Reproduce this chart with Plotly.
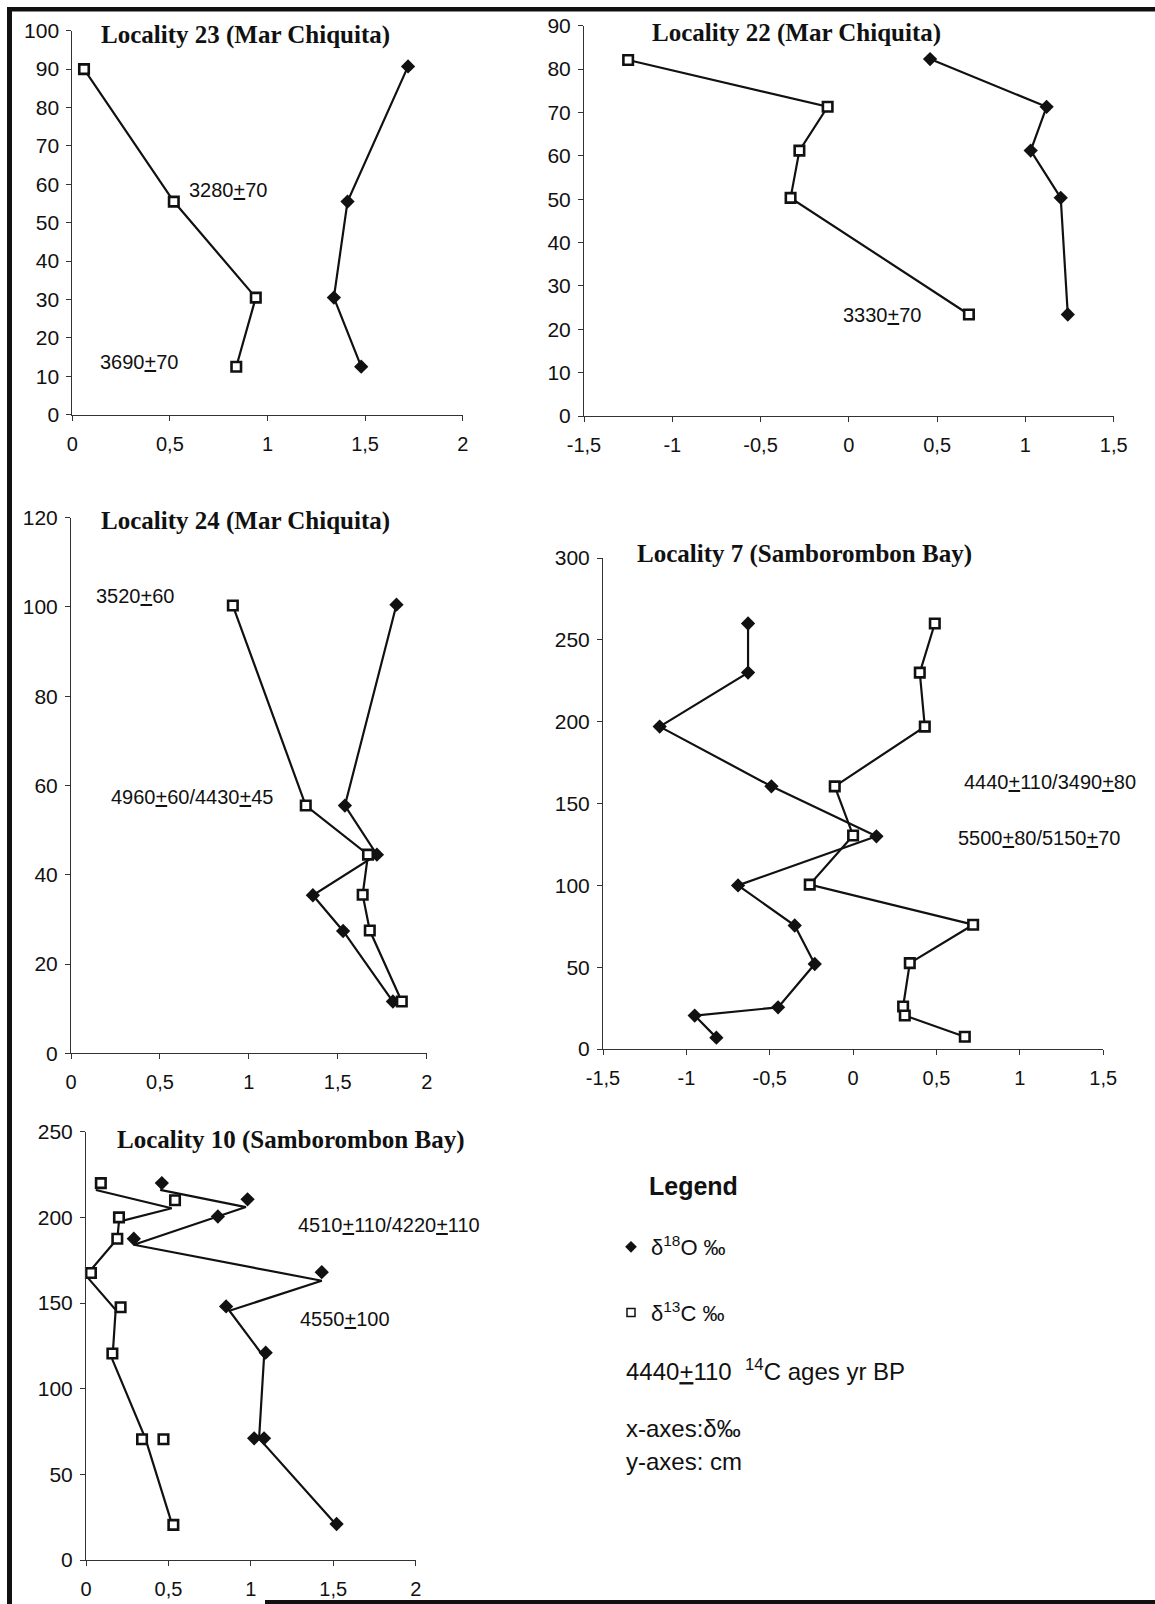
import plotly.graph_objects as go

W, H = 1155, 1604

# ---------------- data ----------------
# Locality 23 (Mar Chiquita)
l23_d18o_x = [1.72, 1.41, 1.34, 1.48]
l23_d18o_y = [90.7, 55.5, 30.5, 12.5]
l23_d13c_x = [0.06, 0.52, 0.94, 0.84]
l23_d13c_y = [90.0, 55.5, 30.5, 12.5]

# Locality 22 (Mar Chiquita)
l22_d18o_x = [0.46, 1.12, 1.03, 1.20, 1.24]
l22_d18o_y = [82.3, 71.3, 61.2, 50.3, 23.4]
l22_d13c_x = [-1.25, -0.12, -0.28, -0.33, 0.68]
l22_d13c_y = [82.1, 71.3, 61.2, 50.3, 23.4]

# Locality 24 (Mar Chiquita)
l24_d18o_x = [1.83, 1.54, 1.72, 1.36, 1.53, 1.81]
l24_d18o_y = [100.5, 55.5, 44.5, 35.4, 27.4, 11.6]
l24_d13c_x = [0.91, 1.32, 1.67, 1.64, 1.68, 1.86]
l24_d13c_y = [100.3, 55.5, 44.5, 35.5, 27.5, 11.6]

# Locality 7 (Samborombon Bay)
l7_d18o_x = [-0.63, -0.63, -1.16, -0.49, 0.14, -0.69, -0.35, -0.23, -0.45, -0.95, -0.82]
l7_d18o_y = [260, 230, 197, 160.5, 130, 100, 75.5, 52, 25.5, 20.5, 7]
l7_d13c_x = [0.49, 0.40, 0.43, -0.11, 0.00, -0.26, 0.72, 0.34, 0.30, 0.31, 0.67]
l7_d13c_y = [260, 230, 197, 160.5, 130.5, 100.5, 76, 52.5, 26, 20.5, 7.5]

# Locality 10 (Samborombon Bay) - markers
l10_d18o_x = [0.46, 0.98, 0.80, 0.29, 1.43, 0.85, 1.09, 1.02, 1.08, 1.52]
l10_d18o_y = [220, 210.5, 200.5, 187.5, 168, 148, 121, 71, 71, 21]
l10_d13c_x = [0.09, 0.54, 0.20, 0.19, 0.03, 0.21, 0.16, 0.34, 0.47, 0.53]
l10_d13c_y = [220, 210, 200, 187.5, 167.5, 147.5, 120.5, 70.5, 70.5, 20.5]
# Locality 10 - profile lines (drawn slightly apart from the markers in the original)
l10_d18o_line_x = [0.45, 0.97, 0.29, 1.43, 0.87, 1.08, 1.05, 1.51]
l10_d18o_line_y = [216, 206, 184, 163, 145.5, 118.5, 71, 21.5]
l10_d13c_line_x = [0.06, 0.52, 0.20, 0.19, 0.00, 0.18, 0.16, 0.36, 0.52]
l10_d13c_line_y = [216, 205.3, 197.5, 187.5, 166, 146, 117, 71, 21.5]

# tick labels
ticks_pos = [0, 0.5, 1, 1.5, 2]
ticks_pos_text = ["0", "0,5", "1", "1,5", "2"]
ticks_sym = [-1.5, -1, -0.5, 0, 0.5, 1, 1.5]
ticks_sym_text = ["-1,5", "-1", "-0,5", "0", "0,5", "1", "1,5"]

titles = ["Locality 23 (Mar Chiquita)", "Locality 22 (Mar Chiquita)",
          "Locality 24 (Mar Chiquita)", "Locality 7 (Samborombon Bay)",
          "Locality 10 (Samborombon Bay)"]

PM = "<u>+</u>"
ages = [
    ("x", "y", 0.80, 58.5, "3280" + PM + "70"),
    ("x", "y", 0.344, 13.7, "3690" + PM + "70"),
    ("x2", "y2", 0.185, 23.4, "3330" + PM + "70"),
    ("x3", "y3", 0.359, 102.4, "3520" + PM + "60"),
    ("x3", "y3", 0.683, 57.3, "4960" + PM + "60/4430" + PM + "45"),
    ("x4", "y4", 1.179, 163.2, "4440" + PM + "110/3490" + PM + "80"),
    ("x4", "y4", 1.116, 128.8, "5500" + PM + "80/5150" + PM + "70"),
    ("x5", "y5", 1.838, 195.6, "4510" + PM + "110/4220" + PM + "110"),
    ("x5", "y5", 1.573, 140.5, "4550" + PM + "100"),
]

# ---------------- styling ----------------
SANS = "Liberation Sans, Arial, sans-serif"
SERIF = "Liberation Serif, Times New Roman, serif"
BLK = "#111111"
diamond = dict(symbol="diamond", size=11, color=BLK, line=dict(width=0))
square = dict(symbol="square", size=9.5, color="white", line=dict(width=2.6, color=BLK))
lstyle = dict(color=BLK, width=2.2)

fig = go.Figure()

def add_pair(xa, ya, dx, dy, cx, cy):
    fig.add_trace(go.Scatter(x=dx, y=dy, xaxis=xa, yaxis=ya, mode="lines+markers",
                             line=lstyle, marker=diamond, showlegend=False, cliponaxis=False))
    fig.add_trace(go.Scatter(x=cx, y=cy, xaxis=xa, yaxis=ya, mode="lines+markers",
                             line=lstyle, marker=square, showlegend=False, cliponaxis=False))

add_pair("x", "y", l23_d18o_x, l23_d18o_y, l23_d13c_x, l23_d13c_y)
add_pair("x2", "y2", l22_d18o_x, l22_d18o_y, l22_d13c_x, l22_d13c_y)
add_pair("x3", "y3", l24_d18o_x, l24_d18o_y, l24_d13c_x, l24_d13c_y)
add_pair("x4", "y4", l7_d18o_x, l7_d18o_y, l7_d13c_x, l7_d13c_y)

# Locality 10: lines then markers
fig.add_trace(go.Scatter(x=l10_d18o_line_x, y=l10_d18o_line_y, xaxis="x5", yaxis="y5",
                         mode="lines", line=lstyle, showlegend=False, cliponaxis=False))
fig.add_trace(go.Scatter(x=l10_d13c_line_x, y=l10_d13c_line_y, xaxis="x5", yaxis="y5",
                         mode="lines", line=lstyle, showlegend=False, cliponaxis=False))
fig.add_trace(go.Scatter(x=l10_d18o_x, y=l10_d18o_y, xaxis="x5", yaxis="y5",
                         mode="markers", marker=diamond, showlegend=False, cliponaxis=False))
fig.add_trace(go.Scatter(x=l10_d13c_x, y=l10_d13c_y, xaxis="x5", yaxis="y5",
                         mode="markers", marker=square, showlegend=False, cliponaxis=False))

# legend proxies
fig.add_trace(go.Scatter(x=[None], y=[None], mode="markers", name="δ<sup>18</sup>O ‰",
                         legendgroup="o", marker=dict(symbol="diamond", size=9, color=BLK)))
fig.add_trace(go.Scatter(x=[None], y=[None], mode="markers", name="δ<sup>13</sup>C ‰",
                         legendgroup="c", marker=dict(symbol="square", size=8, color="white",
                                                      line=dict(width=1.5, color=BLK))))

def xd(a, b):
    return [a / W, b / W]

def yd(top, bottom):
    return [1 - bottom / H, 1 - top / H]

def xax(dom, rng, tv, tt):
    return dict(domain=dom, range=rng, tickvals=tv, ticktext=tt, showgrid=False, zeroline=False,
                showline=True, linecolor="#333", linewidth=1, ticks="outside", ticklen=5,
                tickcolor="#333", tickfont=dict(family=SANS, size=20, color=BLK),
                ticklabelstandoff=6, fixedrange=True, automargin=False)

def yax(dom, rng, dt, anchor):
    return dict(domain=dom, range=rng, dtick=dt, tick0=0, showgrid=False, zeroline=False,
                showline=True, linecolor="#333", linewidth=1, ticks="outside", ticklen=5,
                tickcolor="#333", tickfont=dict(family=SANS, size=21, color=BLK),
                ticklabelstandoff=3, anchor=anchor, fixedrange=True, automargin=False)

layout = dict(
    width=W, height=H, margin=dict(l=0, r=0, t=0, b=0, autoexpand=False),
    paper_bgcolor="white", plot_bgcolor="rgba(0,0,0,0)",
    xaxis=dict(**xax(xd(72.3, 462.7), [0, 2], ticks_pos, ticks_pos_text), anchor="y"),
    yaxis=yax(yd(30.7, 414.7), [0, 100], 10, "x"),
    xaxis2=dict(**xax(xd(584.0, 1113.7), [-1.5, 1.5], ticks_sym, ticks_sym_text), anchor="y2"),
    yaxis2=yax(yd(25.7, 416), [0, 90], 10, "x2"),
    xaxis3=dict(**xax(xd(71, 426.7), [0, 2], ticks_pos, ticks_pos_text), anchor="y3"),
    yaxis3=yax(yd(517.6, 1053.3), [0, 120], 20, "x3"),
    xaxis4=dict(**xax(xd(603.0, 1103.2), [-1.5, 1.5], ticks_sym, ticks_sym_text), anchor="y4"),
    yaxis4=yax(yd(558.0, 1049.1), [0, 300], 50, "x4"),
    xaxis5=dict(**xax(xd(86, 415.7), [0, 2], ticks_pos, ticks_pos_text), anchor="y5"),
    yaxis5=yax(yd(1131.7, 1560), [0, 250], 50, "x5"),
    showlegend=True,
    legend=dict(x=611 / W, y=1 - 1226 / H, xanchor="left", yanchor="top",
                font=dict(family=SANS, size=22, color=BLK), bgcolor="rgba(0,0,0,0)",
                traceorder="grouped", tracegroupgap=34, itemclick=False),
)
fig.update_layout(**layout)

# titles
title_pos = [(246, 35), (796.4, 33.3), (245, 521.4), (804.1, 553.6), (290.8, 1140)]
for t, (px, py) in zip(titles, title_pos):
    fig.add_annotation(text="<b>" + t + "</b>", x=px / W, y=1 - py / H, xref="paper", yref="paper",
                       showarrow=False, xanchor="center", yanchor="middle",
                       font=dict(family=SERIF, size=25, color=BLK))

# 14C ages
for xa, ya, ax, ay, txt in ages:
    fig.add_annotation(text=txt, x=ax, y=ay, xref=xa, yref=ya, showarrow=False,
                       xanchor="center", yanchor="middle",
                       font=dict(family=SANS, size=20, color=BLK))

# legend texts
def ptxt(txt, px, py, size, bold=False):
    fig.add_annotation(text=("<b>" + txt + "</b>") if bold else txt, x=px / W, y=1 - py / H,
                       xref="paper", yref="paper", showarrow=False, xanchor="left",
                       yanchor="middle", font=dict(family=SANS, size=size, color=BLK))

ptxt("Legend", 647, 1186, 25, bold=True)
ptxt("4440" + PM + "110\u00a0\u00a0<sup>14</sup>C ages yr BP", 624, 1370, 24)
ptxt("x-axes:δ‰", 624, 1428, 24)
ptxt("y-axes: cm", 624, 1461, 24)

# page frame
frame = [
    (7, 7, W, 11.5),      # top
    (7, 7, 12, H),        # left
    (265, H - 4, W, H),   # bottom
]
for x0, y0, x1, y1 in frame:
    fig.add_shape(type="rect", xref="paper", yref="paper", x0=x0 / W, x1=x1 / W,
                  y0=1 - y1 / H, y1=1 - y0 / H, fillcolor=BLK, line=dict(width=0), layer="above")

fig.write_html("out.html", config={"displayModeBar": False, "staticPlot": True},
               post_script="document.body.style.margin='0';document.body.style.overflow='hidden';")
